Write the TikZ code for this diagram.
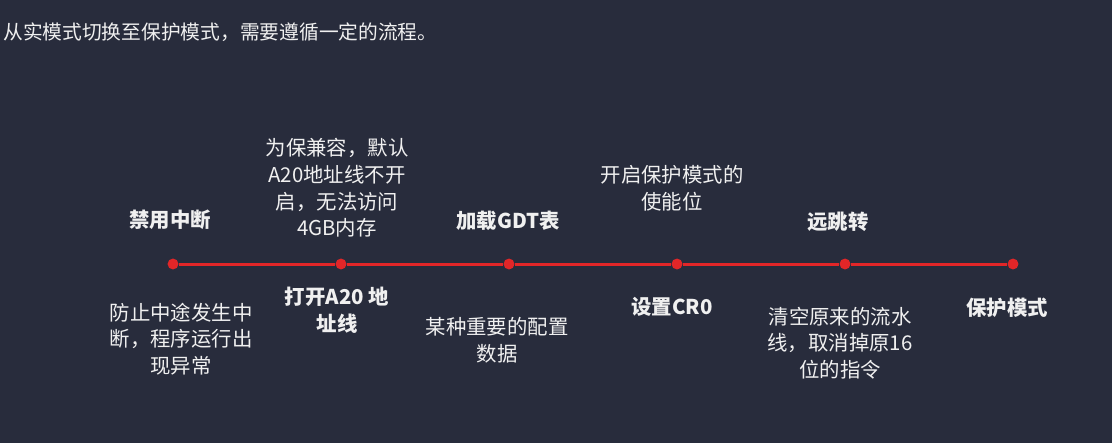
\documentclass[tikz,border=0pt]{standalone}
\usepackage{fontspec}
\newfontfamily\cjk{Noto Sans CJK SC}
\definecolor{bg}{RGB}{40,44,60}
\definecolor{lred}{RGB}{226,38,40}
\definecolor{txt}{RGB}{240,240,240}
\tikzset{
  dot/.style={circle,fill=lred,inner sep=0pt,minimum size=8.2pt},
  lbl/.style={text=txt,align=center,inner sep=0pt,font=\cjk\fontsize{15.3}{20}\selectfont},
  blbl/.style={lbl,font=\cjk\bfseries\fontsize{15.3}{20}\selectfont},
  tline/.style={draw=lred,line width=2.25pt}
}
\begin{document}
\begin{tikzpicture}[x=0.75pt,y=-0.75pt]
\fill[bg] (0,0) rectangle (1112,443);
\useasboundingbox (0,0) rectangle (1112,443);
\node[anchor=west,text=txt,inner sep=0pt,font=\cjk\fontsize{14.8}{17}\selectfont] (title) at (3,32) {从实模式切换至保护模式，需要遵循一定的流程。};
\foreach \i/\x in {1/173,2/341,3/509,4/677,5/845,6/1013}{
  \node[dot] (d\i) at (\x,264) {};
}
\draw[tline] (d1) -- (d2);
\draw[tline] (d2) -- (d3);
\draw[tline] (d3) -- (d4);
\draw[tline] (d4) -- (d5);
\draw[tline] (d5) -- (d6);
% top labels
\node[blbl] (t1) at (170,220) {禁用中断};
\node[lbl] (t2) at (337,188) {为保兼容，默认\\A20地址线不开\\启，无法访问\\4GB内存};
\node[blbl] (t3) at (508,221) {加载GDT表};
\node[lbl] (t4) at (672,188) {开启保护模式的\\使能位};
\node[blbl] (t5) at (838,222) {远跳转};
% bottom labels
\node[lbl] (b1) at (181,339) {防止中途发生中\\断，程序运行出\\现异常};
\node[blbl] (b2) at (337,310) {打开A20 地\\址线};
\node[lbl] (b3) at (497,340) {某种重要的配置\\数据};
\node[blbl] (b4) at (672,307) {设置CR0};
\node[lbl] (b5) at (840,343) {清空原来的流水\\线，取消掉原16\\位的指令};
\node[blbl] (b6) at (1007,308) {保护模式};
\end{tikzpicture}
\end{document}
